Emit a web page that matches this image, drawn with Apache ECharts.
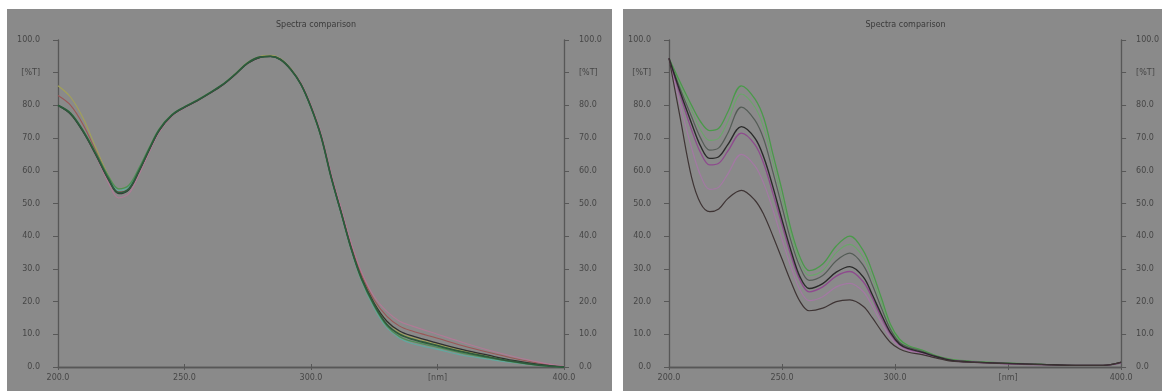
<!DOCTYPE html>
<html><head><meta charset="utf-8">
<script src="https://cdn.jsdelivr.net/npm/echarts@6/dist/echarts.min.js"></script>
<style>
html,body{margin:0;padding:0;background:#fff;width:1162px;height:391px;overflow:hidden;}
.panel{position:absolute;background:#8a8a8a;}
#chart{position:absolute;left:0;top:0;width:1162px;height:391px;}
</style></head>
<body>
<div class="panel" style="left:7px;top:9px;width:605px;height:382px;"></div>
<div class="panel" style="left:623px;top:9px;width:539px;height:382px;"></div>
<div id="chart"></div>
<script>
// ---- data ----
const chartTitle = 'Spectra comparison';
const yTickLabels = {100:'100.0',90:'[%T]',80:'80.0',70:'70.0',60:'60.0',50:'50.0',40:'40.0',30:'30.0',20:'20.0',10:'10.0',0:'0.0'};
const xTickLabels = {200:'200.0',250:'250.0',300:'300.0',350:'[nm]',400:'400.0'};

const xLeft = [200,205,210,215,220,224,228,232,236,240,245,250,255,260,265,270,275,280,284,288,292,296,300,304,308,312,316,320,325,330,335,340,350,360,370,380,390,400];
const L1 = [80,77.5,72,65,57.5,53.3,54.5,60,66.5,72.5,77,79.5,81.5,83.8,86.3,89.5,93,94.8,95,94,91,86.5,79.5,70.5,58,47,36,27,19,13,10,8.5,6.5,4.6,3.1,1.7,0.6,0];
const L2 = [80,77.3,71.8,64.8,57.2,53,54.2,59.8,66.3,72.3,76.9,79.4,81.4,83.7,86.2,89.4,92.9,94.7,95,94,91,86.5,79.5,70.5,58,47,36,27.2,19.5,14,11,9.5,7.3,5.3,3.6,2,0.8,0];
const L3 = [80,77.7,72.3,65.5,58.3,54.5,55.6,60.8,67,72.8,77.2,79.6,81.6,83.9,86.4,89.6,93.1,94.8,95,94,91,86.4,79.3,70.3,57.8,46.8,35.7,26.6,18.5,12.5,9.3,7.8,6,4.2,2.8,1.5,0.5,0];
const L4 = [80,77.6,72.2,65.3,58,54,55.2,60.5,66.8,72.6,77.1,79.5,81.5,83.8,86.3,89.5,93,94.8,95,94,91,86.4,79.2,70.2,57.6,46.5,35.4,26.3,18,12,8.8,7.2,5.4,3.6,2.4,1.3,0.5,0];
const L5 = [80,77.4,71.8,64.5,56.2,51.7,53,58.8,65.5,71.8,76.6,79.2,81.3,83.6,86.1,89.3,92.8,94.6,94.9,94,91.2,87,80.2,71.5,59.3,48.5,37.8,29,21.5,17,14,12.5,10,7.5,5.2,3.2,1.5,0.2];
const L6 = [83,80,74,66,58,53.5,54.3,59.8,66.3,72.3,76.9,79.4,81.4,83.7,86.2,89.4,92.9,94.7,95,94,91.1,86.8,79.9,71,58.8,47.9,37,28.3,20.5,15.5,12.5,11,8.8,6.5,4.5,2.7,1.2,0.1];
const L7 = [86,82.5,76,67,58.5,54.5,55.5,60.5,66.8,72.6,77,79.5,81.5,83.8,86.3,89.6,93.2,95,95.3,94.3,91.3,86.8,79.8,70.8,58.4,47.4,36.4,27.5,19.5,14,10.5,9,7,5,3.4,1.9,0.7,0];

const xRight = [200,205,210,214,218,222,226,232,238,242,246,250,254,258,262,268,274,280,286,290,294,298,302,306,312,318,325,335,350,365,380,392,400];
const R1 = [94.4,87,80,75,72.3,73,78,86,82,76,65,54,42,33.5,29.5,31.5,37,40,35.5,29,21,13,8.5,6.5,5.2,3.5,2.3,1.7,1.2,0.8,0.5,0.5,1.3];
const R2 = [94.4,86,78.5,72.5,69.3,70,75,83.5,79.5,73,62.5,51.5,40.5,32,28,29.5,35,37.5,33.5,27,19.5,12,8,6.2,5,3.4,2.2,1.6,1.1,0.8,0.5,0.5,1.3];
const R3 = [94.4,85,76.5,70,66.3,67,71.5,79.5,75.5,69.5,59.5,49,38.5,30.5,26.5,28,32.5,34.8,31,25,18,11.5,7.5,6,4.8,3.3,2.1,1.6,1.1,0.8,0.5,0.5,1.3];
const R4 = [94.4,84,74.5,67.5,63.8,64.3,68,73.5,70,64,55,45,35.5,27.5,24,25.5,29,30.7,27.5,22,16,10.5,7,5.6,4.5,3.2,2,1.5,1.1,0.8,0.5,0.5,1.4];
const R5 = [94.4,83,72.5,65.5,61.8,62.3,66,71.5,68,62,53,43.5,34,26.5,23,24.5,27.8,29.2,26,21,15,10,6.8,5.4,4.4,3.1,2,1.5,1,0.7,0.5,0.5,1.3];
const R6 = [94.4,80,67,58.5,54.3,55,59,65,61.5,56,48,39,30.5,23.5,20.3,21.5,24.5,25.6,23,18.5,13.5,9,6.3,5,4.1,3,1.9,1.4,1,0.7,0.5,0.5,1.3];
const R7 = [94.4,76,58,50,47.5,48.3,51.5,54,51,46.5,40,33,26,20,17.2,18,20,20.5,18.5,15,11,7.5,5.5,4.5,3.8,2.8,1.8,1.4,1,0.7,0.5,0.5,1.5];

const leftSeries = [
  {name:'L7', data:L7, color:'#a3a256', w:1.1},
  {name:'L6', data:L6, color:'#9a5656', w:1.1},
  {name:'L5', data:L5, color:'#b07a96', w:1.1},
  {name:'L4', data:L4, color:'#5faaa0', w:1.1},
  {name:'L3', data:L3, color:'#4e8e56', w:1.3},
  {name:'L2', data:L2, color:'#303030', w:1.3},
  {name:'L1', data:L1, color:'#2e5a3c', w:1.8}
];
const rightSeries = [
  {name:'R2', data:R2, color:'#6aa66a', w:1.1},
  {name:'R1', data:R1, color:'#4a9a4a', w:1.3},
  {name:'R3', data:R3, color:'#545c56', w:1.2},
  {name:'R6', data:R6, color:'#a478a4', w:1.2},
  {name:'R5', data:R5, color:'#8e4a8e', w:1.3},
  {name:'R4', data:R4, color:'#2a2a2a', w:1.4},
  {name:'R7', data:R7, color:'#3e3434', w:1.2}
];

// ---- chart ----
const txt = '#464646', axisC = '#575757', fs = 8, ff = 'DejaVu Sans';
const grids = [
  {left:58, top:40, width:506, height:327},
  {left:669, top:40, width:463, height:327}
];
const xAxes = [], yAxes = [], series = [], titles = [];
grids.forEach((g, i) => {
  titles.push({text:chartTitle, left:g.left + g.width/2, top:16, textAlign:'center',
    textStyle:{fontSize:fs, fontWeight:'normal', color:'#3a3a3a', fontFamily:ff}});
  xAxes.push({gridIndex:i, type:'value', min:200, max:400, interval:50, position:'bottom',
    axisLine:{show:true, lineStyle:{color:axisC, width:1.3}},
    axisTick:{show:true, inside:true, length:3, lineStyle:{color:axisC}},
    axisLabel:{color:txt, fontSize:fs, fontFamily:ff, margin:7, formatter:v => xTickLabels[v] || ''},
    splitLine:{show:false}});
  xAxes.push({gridIndex:i, type:'value', min:200, max:400, interval:50, position:'top',
    axisLine:{show:true, lineStyle:{color:axisC, width:1.3}},
    axisTick:{show:true, inside:true, length:3, lineStyle:{color:axisC}},
    axisLabel:{show:false}, splitLine:{show:false}});
  yAxes.push({gridIndex:i, type:'value', min:0, max:100, interval:10, position:'left',
    axisLine:{show:true, lineStyle:{color:axisC, width:1.3}},
    axisTick:{show:true, inside:false, length:5, lineStyle:{color:axisC}},
    axisLabel:{color:txt, fontSize:fs, fontFamily:ff, margin:18, formatter:v => yTickLabels[v] || ''},
    splitLine:{show:false}});
  yAxes.push({gridIndex:i, type:'value', min:0, max:100, interval:10, position:'right',
    axisLine:{show:true, lineStyle:{color:axisC, width:1.3}},
    axisTick:{show:true, inside:false, length:5, lineStyle:{color:axisC}},
    axisLabel:{color:txt, fontSize:fs, fontFamily:ff, margin:15, formatter:v => yTickLabels[v] || ''},
    splitLine:{show:false}});
});
function addSeries(list, xs, gi) {
  list.forEach(s => {
    series.push({name:s.name, type:'line', xAxisIndex:gi*2, yAxisIndex:gi*2,
      data:xs.map((x, k) => [x, s.data[k]]), smooth:0.35, showSymbol:false, symbol:'none',
      lineStyle:{color:s.color, width:s.w}, itemStyle:{color:s.color}, animation:false});
  });
}
addSeries(leftSeries, xLeft, 0);
addSeries(rightSeries, xRight, 1);

const chart = echarts.init(document.getElementById('chart'), null, {renderer:'canvas'});
chart.setOption({
  backgroundColor:'transparent', animation:false,
  title:titles, grid:grids, xAxis:xAxes, yAxis:yAxes, series:series
});
</script>
</body></html>
